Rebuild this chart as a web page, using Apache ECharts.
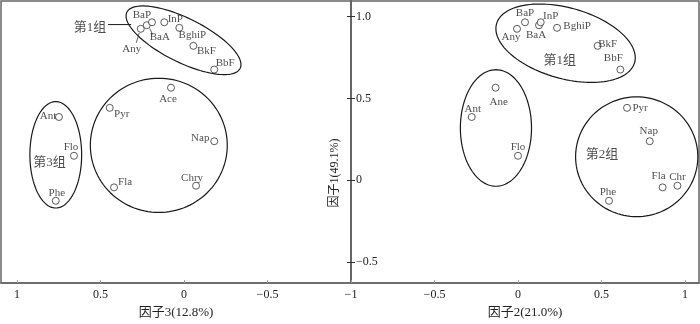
<!DOCTYPE html>
<html>
<head>
<meta charset="utf-8">
<script src="https://cdn.jsdelivr.net/npm/echarts@6/dist/echarts.min.js"></script>
<style>html,body{margin:0;padding:0;background:#fff}#c{width:700px;height:324px}</style>
</head>
<body>
<div id="c"></div>
<script>
// ---- data ----
const names = ['Any','BaA','BaP','InP','BghiP','BkF','BbF','Ace','Pyr','Ant','Nap','Flo','Fla','Chry','Phe'];
const factor1 = [0.926,0.948,0.966,0.966,0.932,0.822,0.677,0.566,0.443,0.387,0.239,0.150,-0.043,-0.033,-0.125];
const factor3 = [0.259,0.223,0.192,0.118,0.028,-0.056,-0.181,0.078,0.445,0.749,-0.181,0.659,0.419,-0.072,0.768];
const namesR = ['Any','BaA','BaP','InP','BghiP','BkF','BbF','Ane','Pyr','Ant','Nap','Flo','Fla','Chr','Phe'];
const factor2 = [-0.006,0.126,0.042,0.136,0.234,0.477,0.613,-0.134,0.653,-0.277,0.789,0.000,0.866,0.955,0.545];
const xTicks = [-1,-0.5,0,0.5,1];
const yTicks = [-0.5,0,0.5,1];
const groupNamesL = ['第1组','第3组'];
const groupNamesR = ['第1组','第2组'];

// ---- annotations (group outlines, in data units: cx, cy, a, b, angle) ----
const ellipsesL = [[0.003,0.856,0.38,0.134,27],[0.151,0.214,0.41,0.41,0],[0.768,0.156,0.155,0.325,0]];
const ellipsesR = [[0.285,0.838,0.43,0.216,-16.2],[-0.132,0.32,0.213,0.356,0],[0.711,0.144,0.366,0.366,0]];
const groupPosL = [[0.563,0.934],[0.806,0.111]];
const groupPosR = [[0.25,0.732],[0.503,0.157]];
const pointerL = [[0.455,0.952],[0.317,0.952]];

// label offsets (px) of point labels
const offL = {Any:[-9,20],BaA:[13,12],BaP:[-10,-7],InP:[11,-3],BghiP:[13,7],BkF:[13,5],BbF:[11,-6],Ace:[-3,11],Pyr:[12,6],Ant:[-11,-1],Nap:[-14,-3],Flo:[-3,-9],Fla:[11,-5],Chry:[-4,-8],Phe:[1,-8]};
const offR = {Any:[-6,8],BaA:[-3,10],BaP:[0,-9],InP:[10,-6],BghiP:[20,-2],BkF:[10,-2],BbF:[-7,-11],Ane:[3,14],Pyr:[13,0],Ant:[1,-8],Nap:[-1,-10],Flo:[0,-9],Fla:[-4,-11],Chr:[0,-9],Phe:[-1,-9]};
// leader lines (px offsets from the point: start, end)
const leadersL = {Any:[[-1.5,4],[-4.5,14]], BaA:[[3,3.5],[6,9.5]]};

const FONT = "'Liberation Serif', 'Noto Sans CJK SC', serif";
const TXT = '#222';
const LINE = '#666';

const chart = echarts.init(document.getElementById('c'), null, {renderer:'canvas'});

function fmtX(v){ return String(v).replace('-', '\u2212'); }
function fmtY(v){ return v === 1 ? '1.0' : String(v).replace('-', '\u2212'); }

function ellipseRender(params, api){
  const cx = api.value(0), cy = api.value(1), a = api.value(2), b = api.value(3), ang = api.value(4)*Math.PI/180;
  const pts = [];
  for (let i=0;i<120;i++){
    const t = i/120*Math.PI*2;
    const ex = a*Math.cos(t), ey = b*Math.sin(t);
    const x = cx + ex*Math.cos(ang) - ey*Math.sin(ang);
    const y = cy + ex*Math.sin(ang) + ey*Math.cos(ang);
    pts.push(api.coord([x,y]));
  }
  return {type:'polygon', shape:{points:pts}, style:{fill:'none', stroke:'#1a1a1a', lineWidth:1.2}, silent:true};
}

function pointSeries(xi, yi, xs, ys, nm, offs){
  return {
    type:'scatter', xAxisIndex:xi, yAxisIndex:yi,
    symbol:'circle', symbolSize:7,
    itemStyle:{color:'#fff', borderColor:'#333', borderWidth:1},
    data: nm.map((n,i)=>({name:n, value:[xs[i], ys[i]]})),
    label:{show:true, position:'inside', formatter:'{b}', fontFamily:FONT, fontSize:11, color:TXT, align:'center', verticalAlign:'middle'},
    labelLayout: function(p){ const o = offs[nm[p.dataIndex]]; return {dx:o[0], dy:o[1]}; },
    z:5
  };
}

const leaderData = Object.keys(leadersL).map(n => {
  const i = names.indexOf(n);
  return {name:n, value:[factor3[i], factor1[i]]};
});

function leaderRender(params, api){
  const p = api.coord([api.value(0), api.value(1)]);
  const seg = leadersL[leaderData[params.dataIndex].name];
  return {type:'line', shape:{x1:p[0]+seg[0][0], y1:p[1]+seg[0][1], x2:p[0]+seg[1][0], y2:p[1]+seg[1][1]},
          style:{stroke:'#333', lineWidth:0.8}, silent:true};
}

function groupSeries(xi, yi, pos, nm){
  return {
    type:'scatter', xAxisIndex:xi, yAxisIndex:yi, symbolSize:0, silent:true,
    data: nm.map((n,i)=>({name:n, value:pos[i]})),
    label:{show:true, position:'inside', formatter:'{b}', fontFamily:FONT, fontSize:13, color:TXT}
  };
}

const option = {
  backgroundColor:'#fff',
  animation:false,
  grid:[
    {left:1, right:349, top:1, bottom:36, show:true, borderColor:LINE, borderWidth:1.5},
    {left:351, right:1, top:1, bottom:36, show:true, borderColor:LINE, borderWidth:1.5}
  ],
  xAxis:[
    {gridIndex:0, type:'value', inverse:true, min:-1, max:1.096,
     name:'因子3(12.8%)', nameLocation:'middle', nameGap:21,
     nameTextStyle:{fontFamily:FONT, fontSize:13, color:TXT},
     axisLine:{onZero:false, lineStyle:{color:LINE, width:1.5}},
     axisTick:{inside:true, length:3, customValues:[-0.5,0,0.5,1], lineStyle:{color:'#999'}},
     axisLabel:{customValues:[-0.5,0,0.5,1], formatter:fmtX, fontFamily:FONT, fontSize:12, color:TXT, margin:6},
     splitLine:{show:false}},
    {gridIndex:1, type:'value', min:-1, max:1.084,
     name:'因子2(21.0%)', nameLocation:'middle', nameGap:21,
     nameTextStyle:{fontFamily:FONT, fontSize:13, color:TXT},
     axisLine:{onZero:false, lineStyle:{color:LINE, width:1.5}},
     axisTick:{inside:true, length:3, customValues:xTicks, lineStyle:{color:'#999'}},
     axisLabel:{customValues:xTicks, formatter:fmtX, fontFamily:FONT, fontSize:12, color:TXT, margin:6},
     splitLine:{show:false}}
  ],
  yAxis:[
    {gridIndex:0, type:'value', position:'right', min:-0.628, max:1.096,
     axisLine:{onZero:false, lineStyle:{color:LINE, width:1.5}},
     axisTick:{inside:false, length:4, customValues:yTicks, lineStyle:{color:'#333'}},
     axisLabel:{show:false},
     splitLine:{show:false}},
    {gridIndex:1, type:'value', position:'left', min:-0.628, max:1.096,
     name:'因子1(49.1%)', nameLocation:'middle', nameGap:10, nameRotate:90,
     nameTextStyle:{fontFamily:FONT, fontSize:12, color:TXT, padding:[0,62,0,0]},
     axisLine:{onZero:false, lineStyle:{color:LINE, width:1.5}},
     axisTick:{inside:false, length:4, customValues:yTicks, lineStyle:{color:'#333'}},
     axisLabel:{inside:true, customValues:yTicks, formatter:fmtY, fontFamily:FONT, fontSize:12, color:TXT, margin:5},
     splitLine:{show:false}}
  ],
  series:[
    {type:'custom', xAxisIndex:0, yAxisIndex:0, renderItem:ellipseRender, data:ellipsesL, encode:{x:0,y:1}, silent:true, clip:false},
    {type:'custom', xAxisIndex:1, yAxisIndex:1, renderItem:ellipseRender, data:ellipsesR, encode:{x:0,y:1}, silent:true, clip:false},
    {type:'line', xAxisIndex:0, yAxisIndex:0, data:pointerL, symbol:'none', lineStyle:{color:'#1a1a1a', width:1}, silent:true},
    {type:'custom', xAxisIndex:0, yAxisIndex:0, renderItem:leaderRender, data:leaderData, encode:{x:0,y:1}, silent:true},
    pointSeries(0,0,factor3,factor1,names,offL),
    pointSeries(1,1,factor2,factor1,namesR,offR),
    groupSeries(0,0,groupPosL,groupNamesL),
    groupSeries(1,1,groupPosR,groupNamesR)
  ]
};
chart.setOption(option);
</script>
</body>
</html>
